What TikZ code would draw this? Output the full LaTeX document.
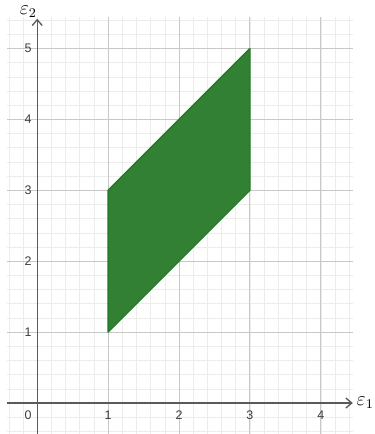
\documentclass[tikz,border=0pt]{standalone}
\usepackage{fontspec}
\setsansfont{Liberation Sans}
\usetikzlibrary{arrows.meta}
\definecolor{minorgrid}{RGB}{236,236,236}
\definecolor{majorgrid}{RGB}{200,200,200}
\definecolor{axiscol}{RGB}{90,90,90}
\definecolor{regionfill}{RGB}{50,128,52}
\definecolor{regionedge}{RGB}{36,122,38}
\definecolor{ticklab}{RGB}{60,60,60}
\tikzset{
  minorline/.style={draw=minorgrid, line width=0.4pt},
  majorline/.style={draw=majorgrid, line width=0.6pt},
  axisline/.style={draw=axiscol, line width=0.8pt, -{Straight Barb[length=3.5pt,width=6pt]}},
  ticklabel/.style={font=\sffamily\fontsize{7.5}{9}\selectfont, text=ticklab, inner sep=0pt},
  axislabel/.style={font=\fontsize{11.5}{13}\selectfont, inner sep=0pt},
  region/.style={fill=regionfill, draw=regionedge, line width=0.8pt, line join=round}
}
\begin{document}
\begin{tikzpicture}[x=1.5cm,y=1.5cm]
\useasboundingbox (-0.525,-0.437) rectangle (4.756,5.684);
% minor grid
\foreach \i in {-2,...,22} {
  \draw[minorline] (\i/5,-0.437) -- (\i/5,5.44);
}
\foreach \j in {-2,...,27} {
  \draw[minorline] (-0.42,\j/5) -- (4.46,\j/5);
}
% major grid
\foreach \i in {1,...,4} {
  \draw[majorline] (\i,-0.437) -- (\i,5.44);
}
\foreach \j in {1,...,5} {
  \draw[majorline] (-0.42,\j) -- (4.46,\j);
}
% region
\draw[region] (1,1) -- (3,3) -- (3,5) -- (1,3) -- cycle;
% axes
\coordinate (xs) at (-0.42,0);
\coordinate (xe) at (4.45,0);
\coordinate (ys) at (0,-0.437);
\coordinate (ye) at (0,5.42);
\draw[axisline] (xs) -- (xe);
\draw[axisline] (ys) -- (ye);
\node[axislabel, anchor=base west] (e1) at (4.50,-0.03) {$\varepsilon_1$};
\node[axislabel, anchor=base west] (e2) at (-0.25,5.48) {$\varepsilon_2$};
% tick labels
\node[ticklabel] (x0) at (-0.13,-0.17) {0};
\foreach \i in {1,...,4} {
  \node[ticklabel] (x\i) at (\i,-0.17) {\i};
}
\foreach \j in {1,...,5} {
  \node[ticklabel] (y\j) at (-0.13,\j) {\j};
}
\end{tikzpicture}
\end{document}
